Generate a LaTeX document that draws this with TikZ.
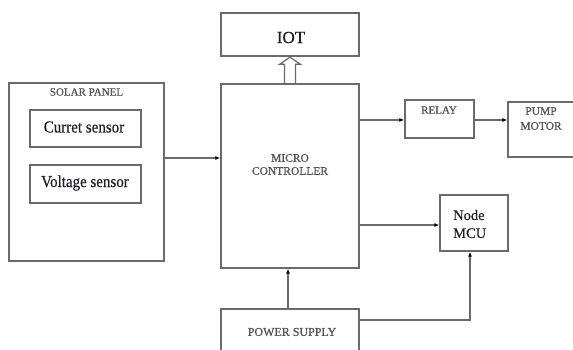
\documentclass[tikz,border=0pt]{standalone}
\usepackage{fontspec}
\setmainfont{Liberation Serif}
\newfontfamily\capsface[FakeBold=0.9]{Liberation Serif}
\newfontfamily\textface[FakeBold=0.4]{Liberation Serif}
\usetikzlibrary{arrows.meta}
\definecolor{lin}{HTML}{6A6A6A}
\definecolor{capt}{HTML}{555555}
\definecolor{dark}{HTML}{1E1E28}
\tikzset{
  box/.style={draw=lin, line width=1.3pt, rectangle, inner sep=0pt, fill=none},
  conn/.style={draw=lin, line width=1.2pt, -{Latex[length=5pt,width=4pt,color=black]}},
  plain/.style={draw=lin, line width=1.2pt},
  capfont/.style={text=capt, font=\capsface\fontsize{11.5}{14}\selectfont, align=center, inner sep=0pt},
  bigfont/.style={text=dark, font=\textface\fontsize{15}{18}\selectfont, inner sep=0pt}
}
\begin{document}
\begin{tikzpicture}[x=1pt,y=-1pt]
\useasboundingbox (0,0) rectangle (573,350);
\clip (0,0) rectangle (573,350);
\fill[white] (0,0) rectangle (573,350);
% boxes
\node[box, minimum width=155pt, minimum height=178pt] (solar) at (86.5,172) {};
\node[box, minimum width=111pt, minimum height=37pt] (curr) at (85.5,128.5) {};
\node[box, minimum width=111pt, minimum height=38pt] (volt) at (85.5,184) {};
\node[box, minimum width=138pt, minimum height=43pt] (iot) at (290,34.5) {};
\node[box, minimum width=138pt, minimum height=184pt] (micro) at (290,176) {};
\node[box, minimum width=69pt, minimum height=38pt] (relay) at (439.5,119) {};
\node[box, minimum width=82pt, minimum height=55pt] (pump) at (549,129.5) {};
\node[box, minimum width=68pt, minimum height=56pt] (mcu) at (474,223) {};
\node[box, minimum width=138pt, minimum height=61pt] (power) at (290,339.5) {};
% labels
\node[capfont, font=\capsface\fontsize{11}{14}\selectfont] (solarL) at (86.5,92) {SOLAR PANEL};
\node[bigfont, yscale=1.12] (currL) at (84,127) {Curret sensor};
\node[bigfont, yscale=1.12] (voltL) at (85,183) {Voltage sensor};
\node[text=dark, font=\textface\fontsize{17}{20}\selectfont, inner sep=0pt] (iotL) at (291,37.5) {IOT};
\node[capfont] (microL) at (290,164.5) {MICRO\\[-1pt]CONTROLLER};
\node[capfont, font=\capsface\fontsize{11}{14}\selectfont] (relayL) at (439,110) {RELAY};
\node[capfont, font=\capsface\fontsize{11.5}{15}\selectfont] (pumpL) at (541,118.5) {PUMP\\MOTOR};
\node[text=dark, font=\textface\fontsize{14.5}{18}\selectfont, align=left, inner sep=0pt, anchor=west] (mcuL) at (453,224) {Node\\MCU};
\node[capfont, font=\capsface\fontsize{12}{14}\selectfont] (powerL) at (292,332) {POWER SUPPLY};
% connectors
\draw[conn] ([yshift=14pt]solar.east) coordinate (sa) -- (sa -| micro.west);
\draw[conn] ([yshift=-1pt]micro.east |- relay.west) coordinate (ra) -- (ra -| relay.west);
\draw[conn] ([yshift=-1pt]relay.east) coordinate (pa) -- (pa -| pump.west);
\draw[conn] ([yshift=-2pt]micro.east |- mcu.west) coordinate (ma) -- (ma -| mcu.west);
\draw[conn] ([xshift=-2pt]power.north) -- ([xshift=-2pt]micro.south);
\coordinate (mb) at ([xshift=-4pt]mcu.south);
\draw[conn] ([yshift=19.5pt]power.east) -| (mb);
% hollow arrow micro -> IOT
\draw[plain, line join=miter] ([xshift=-5.5pt]micro.north) -- ([xshift=-5.5pt,yshift=19pt]micro.north)
  -- ([xshift=-10.5pt,yshift=19pt]micro.north) -- ([yshift=-0.5pt]iot.south)
  -- ([xshift=10.5pt,yshift=19pt]micro.north) -- ([xshift=5.5pt,yshift=19pt]micro.north)
  -- ([xshift=5.5pt]micro.north);
\end{tikzpicture}
\end{document}
